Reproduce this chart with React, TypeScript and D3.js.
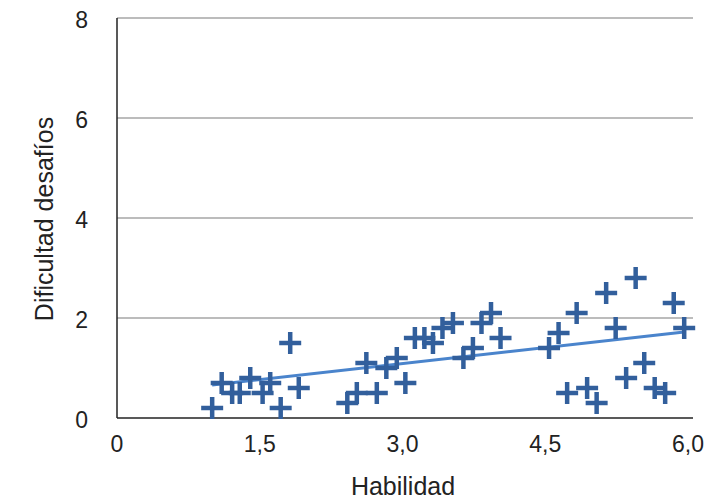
import React from 'react';
import * as d3 from 'd3';

const W = 716;
const H = 499;
const margin = { top: 18, right: 23, bottom: 81, left: 117 };

// Habilidad (x) and Dificultad desafíos (y)
const habilidad = [
  1.0, 1.1, 1.21, 1.29, 1.4, 1.53, 1.61, 1.72, 1.82, 1.91,
  2.42, 2.52, 2.62, 2.73, 2.83, 2.94, 3.03, 3.13, 3.23, 3.32,
  3.42, 3.53, 3.64, 3.74, 3.83, 3.93, 4.03, 4.54, 4.64, 4.73,
  4.83, 4.94, 5.04, 5.14, 5.24, 5.35, 5.45, 5.54, 5.65, 5.76,
  5.85, 5.96,
];
const dificultad = [
  0.2, 0.7, 0.5, 0.5, 0.8, 0.5, 0.7, 0.2, 1.5, 0.6,
  0.3, 0.5, 1.1, 0.5, 1.0, 1.2, 0.7, 1.6, 1.6, 1.5,
  1.8, 1.9, 1.2, 1.4, 1.9, 2.1, 1.6, 1.4, 1.7, 0.5,
  2.1, 0.6, 0.3, 2.5, 1.8, 0.8, 2.8, 1.1, 0.6, 0.5,
  2.3, 1.8,
];
// trend line end points
const trendX = [1.0, 5.96];
const trendY = [0.66, 1.72];

const xTicks = [0, 1.5, 3.0, 4.5, 6.0];
const xTickLabels = ['0', '1,5', '3,0', '4,5', '6,0'];
const yTicks = [0, 2, 4, 6, 8];

export default function App() {
  const iw = W - margin.left - margin.right;
  const ih = H - margin.top - margin.bottom;
  const x = d3.scaleLinear().domain([0, 6]).range([0, 571]);
  const y = d3.scaleLinear().domain([0, 8]).range([ih, 0]);

  const line = d3
    .line<number>()
    .x((d) => x(d))
    .y((d, i) => y(trendY[i]));

  const arm = 11;
  const font = '"Liberation Sans", Arial, sans-serif';

  return (
    <svg
      width={W}
      height={H}
      style={{ position: 'absolute', left: 0, top: 0, background: '#fff' }}
    >
      <g transform={`translate(${margin.left},${margin.top})`}>
        {yTicks
          .filter((t) => t > 0)
          .map((t) => (
            <line key={t} x1={0} x2={iw} y1={y(t)} y2={y(t)} stroke="#a6a6a6" strokeWidth={1.5} />
          ))}
        <line x1={0} x2={0} y1={0} y2={ih} stroke="#222" strokeWidth={1.5} />
        <line x1={0} x2={iw} y1={ih} y2={ih} stroke="#222" strokeWidth={1.5} />

        {yTicks.map((t) => (
          <text
            key={t}
            x={-29}
            y={y(t) + 2}
            dy="0.35em"
            textAnchor="end"
            fontFamily={font}
            fontSize={23}
            fill="#222"
          >
            {t}
          </text>
        ))}
        {xTicks.map((t, i) => (
          <text
            key={t}
            x={x(t)}
            y={ih + 26}
            dy="0.35em"
            textAnchor="middle"
            fontFamily={font}
            fontSize={23}
            fill="#222"
          >
            {xTickLabels[i]}
          </text>
        ))}

        <path d={line(trendX) || ''} fill="none" stroke="#4a84cc" strokeWidth={3} />

        {habilidad.map((hv, i) => {
          const cx = x(hv);
          const cy = y(dificultad[i]);
          return (
            <g key={i} stroke="#325f9c" strokeWidth={4.5}>
              <line x1={cx - arm} x2={cx + arm} y1={cy} y2={cy} />
              <line x1={cx} x2={cx} y1={cy - arm} y2={cy + arm} />
            </g>
          );
        })}
      </g>

      <text
        transform={`translate(53,219) rotate(-90)`}
        textAnchor="middle"
        fontFamily={font}
        fontSize={25}
        fill="#222"
      >
        Dificultad desafíos
      </text>
      <text
        x={403}
        y={495}
        textAnchor="middle"
        fontFamily={font}
        fontSize={25}
        fill="#222"
      >
        Habilidad
      </text>
    </svg>
  );
}
